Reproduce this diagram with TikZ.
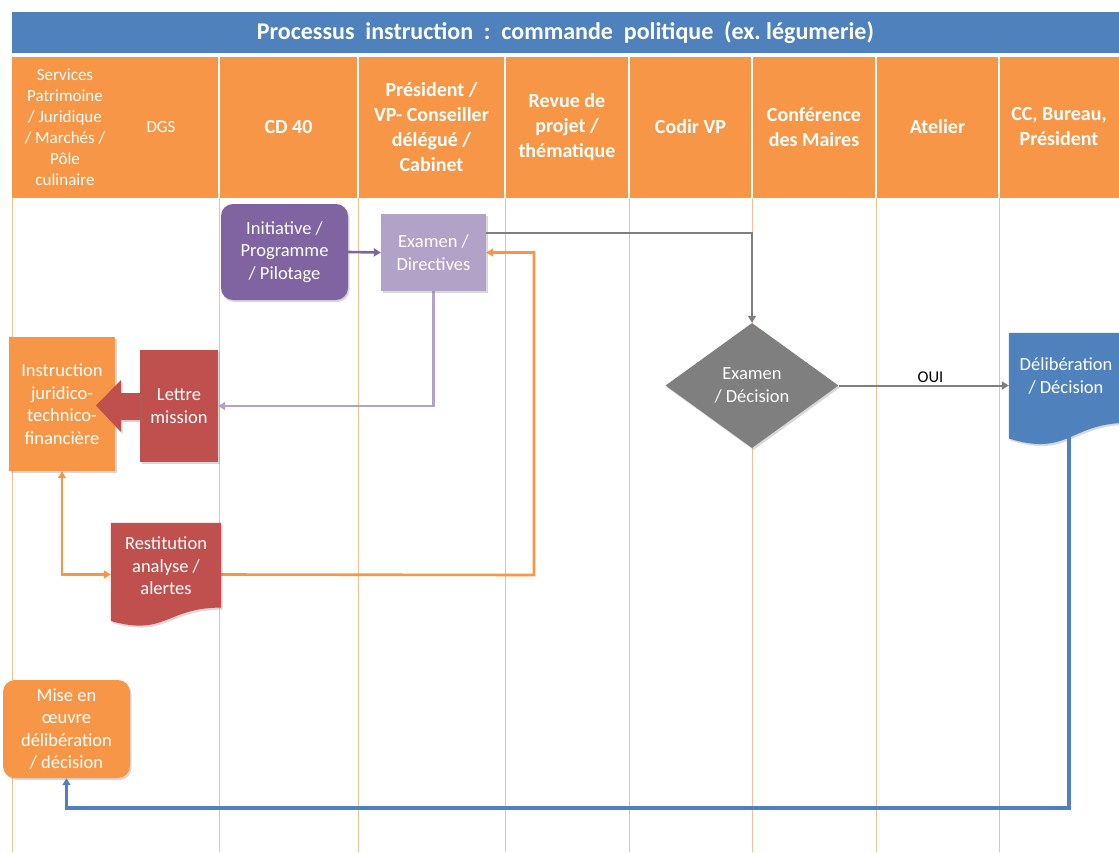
\documentclass[tikz,border=0pt]{standalone}
\usepackage{fontspec}
\setmainfont{Carlito}
\usetikzlibrary{arrows.meta,shapes.geometric,shadows,backgrounds,calc}
\definecolor{oblue}{HTML}{4F81BD}
\definecolor{oorange}{HTML}{F79646}
\definecolor{olane}{HTML}{F9BE93}
\definecolor{opurple}{HTML}{8064A2}
\definecolor{olpurple}{HTML}{B3A2C7}
\definecolor{ored}{HTML}{C0504D}
\definecolor{ogray}{HTML}{7F7F7F}
\tikzset{
  shad/.style={drop shadow={shadow xshift=1.5pt, shadow yshift=-2pt, opacity=0.3}},
  boxtext/.style={inner sep=2pt, align=center, text=white, font=\fontsize{18.5}{22.5}\selectfont},
  box/.style={boxtext, shad},
  hdr/.style={text=white, align=center, font=\bfseries\fontsize{20}{25}\selectfont},
  hdrsmall/.style={text=white, align=center, font=\fontsize{17}{21}\selectfont},
  lane/.style={olane, line width=1pt},
  tip/.style={-{Triangle[length=7pt,width=8pt]}},
  conn/.style={tip, line width=2.6pt},
  frame/.style={inner sep=0pt, draw=none}
}
\begin{document}
\begin{tikzpicture}[x=1pt,y=-1pt]
\useasboundingbox (0,0) rectangle (1119,852);

% background and lanes
\begin{scope}[on background layer]
  \fill[white] (0,0) rectangle (1119,852);
  \foreach \x in {12,219,358,505,629,752,876,999}
    \draw[lane] (\x,198) -- (\x,852);
\end{scope}

% title and header
\node[fill=oblue, minimum width=1107pt, minimum height=41pt, inner sep=0pt,
      text=white, font=\bfseries\fontsize{24}{28}\selectfont] (title) at (565.5,32.5)
  {Processus\ \ instruction\ \ :\ \ commande\ \ politique\ \ (ex.\ légumerie)};
\fill[oorange] (12,57) rectangle (1119,198);
\foreach \x in {219,358,505,629,752,876,999}
  \draw[white, line width=1.5pt] (\x,57) -- (\x,198);

\node[hdrsmall] (hserv) at (65,127.5) {Services\\Patrimoine\\/ Juridique\\/ Marchés /\\Pôle\\culinaire};
\node[hdrsmall] (hdgs) at (161,127) {DGS};
\node[hdr] (hcd) at (288.5,127) {CD 40};
\node[hdr] (hpres) at (431.5,127) {Président /\\VP- Conseiller\\délégué /\\Cabinet};
\node[hdr] (hrev) at (567,127) {Revue de\\projet /\\thématique};
\node[hdr] (hcodir) at (690.5,127) {Codir VP};
\node[hdr] (hconf) at (814,127) {Conférence\\des Maires};
\node[hdr] (hatel) at (937.5,127) {Atelier};
\node[hdr] (hcc) at (1059,127) {CC, Bureau,\\Président};

% boxes
\node[box, fill=opurple, rounded corners=12pt, minimum width=127pt, minimum height=96pt] (init)
  at (284.5,252) {Initiative /\\Programme\\/ Pilotage};
\node[box, fill=olpurple, minimum width=105pt, minimum height=77pt] (exdir)
  at (433.5,252.5) {Examen /\\Directives};
\node[box, fill=oorange, minimum width=106pt, minimum height=134pt] (instr)
  at (62,404) {Instruction\\juridico-\\technico-\\financière};
\node[box, fill=ored, minimum width=78pt, minimum height=112pt] (lettre)
  at (179,406) {Lettre\\mission};
% block arrow Lettre -> Instruction
\fill[ored, shad] (140,393) -- (121,393) -- (121,380) -- (96,405.5) -- (121,432) -- (121,420) -- (140,420) -- cycle;

% Restitution (document shape)
\node[frame, minimum width=110pt, minimum height=103pt] (rest) at (166,574.5) {};
\fill[ored, shad] (rest.north west) -- (rest.north east)
  -- ($(rest.north east)!0.82!(rest.south east)$)
  .. controls ($(rest.north)!0.82!(rest.south)$) and ($(rest.north)!1.10!(rest.south)$)
  .. ($(rest.north west)!0.95!(rest.south west)$) -- cycle;
\node[boxtext] (restt) at (166,566) {Restitution\\analyse /\\alertes};

\node[box, fill=oorange, rounded corners=12pt, minimum width=127pt, minimum height=98pt] (mise)
  at (66.5,729) {Mise en\\œuvre\\délibération\\/ décision};

\node[box, diamond, fill=ogray, minimum width=173pt, minimum height=125pt, inner sep=0pt] (diam)
  at (752,385.5) {Examen\\/ Décision};

% Délibération (document shape)
\node[frame, minimum width=120pt, minimum height=112pt] (delib) at (1069,389) {};
\fill[oblue, shad] (delib.north west) -- (delib.north east)
  -- ($(delib.north east)!0.80!(delib.south east)$)
  .. controls ($(delib.north)!0.80!(delib.south)$) and ($(delib.north)!1.107!(delib.south)$)
  .. ($(delib.north west)!0.94!(delib.south west)$) -- cycle;
\node[boxtext] (delibt) at (1066,376) {Délibération\\/ Décision};

% connectors
\coordinate (c1) at (534,575);
\coordinate (c2) at (1069,808);
\begin{scope}[on background layer]
  \draw[conn, opurple] (init.east) -- (exdir.west);
  \draw[tip, ogray, line width=2pt] ([yshift=-19pt]exdir.north east) -| (diam.north);
  \draw[conn, olpurple] (exdir.south) |- (lettre.east);
  \draw[conn, oorange] (rest.east) -- (c1) |- (exdir.east);
  \draw[line width=2.6pt, oorange, {Triangle[length=7pt,width=8pt]}-{Triangle[length=7pt,width=8pt]}] (instr.south) |- (rest.west);
  \draw[tip, ogray, line width=2pt] (diam.east) -- (diam.east -| delib.west)
    node[pos=0.54, above=-1pt, text=black, font=\fontsize{16.5}{19}\selectfont] (oui) {OUI};
  \draw[conn, oblue, line width=3.4pt] (delib.center) -- (c2) -| (mise.south);
\end{scope}
\end{tikzpicture}
\end{document}
